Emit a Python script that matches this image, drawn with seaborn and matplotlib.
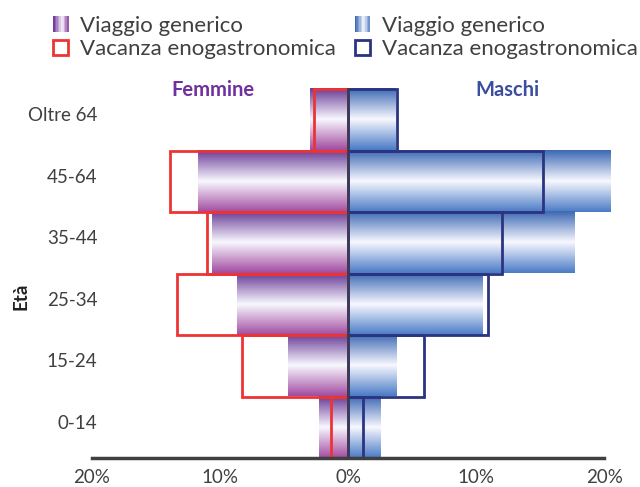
#! /bin/env python3

''' Piramide per eta: viaggio generico vs vacanza enogastronomica '''

import numpy as np
import pandas as pd
import seaborn as sns
import matplotlib.pyplot as plt
from matplotlib.colors import LinearSegmentedColormap, to_rgb
from matplotlib.legend_handler import HandlerBase
from matplotlib.patches import Rectangle
from matplotlib.ticker import FixedLocator, FuncFormatter
from matplotlib.transforms import ScaledTranslation

ages = ['Oltre 64', '45-64', '35-44', '25-34', '15-24', '0-14']
femmine_generico = [3.0, 11.7, 10.6, 8.7, 4.7, 2.3]
femmine_eno = [2.7, 13.9, 11.0, 13.4, 8.3, 1.3]
maschi_generico = [3.7, 20.5, 17.7, 10.5, 3.75, 2.5]
maschi_eno = [3.8, 15.2, 12.0, 10.9, 5.9, 1.2]
x_ticks = [-20, -10, 0, 10, 20]

PURPLE = ('#6a3b96', '#a24ca0')
BLUE = ('#3c69b4', '#4a7bc6')
RED = '#ee3333'
NAVY = '#2c3481'
DARK = '#404040'


def gradient_cmap(top, bottom):
    return LinearSegmentedColormap.from_list(
        'g', [(0, top), (0.5, '#f8f8ff'), (1, bottom)])


def fill_gradient(axis, patches, colors):
    ''' replace the flat fill of each bar with a vertical gradient '''
    cmap = gradient_cmap(*colors)
    grad = np.linspace(0, 1, 200).reshape(-1, 1)
    for patch in patches:
        x0, y0 = patch.get_x(), patch.get_y()
        x1, y1 = x0 + patch.get_width(), y0 + patch.get_height()
        img = axis.imshow(grad, cmap=cmap, aspect='auto', origin='upper',
                          extent=(min(x0, x1), max(x0, x1), y1, y0),
                          interpolation='bilinear', zorder=0.5, clip_on=False)
        img.set_clip_path(patch)
        patch.set_facecolor('none')
        patch.set_edgecolor('none')


class GradientHandler(HandlerBase):
    ''' legend swatch drawn as horizontal stripes '''
    def __init__(self, colors):
        super().__init__()
        self.colors = colors

    def create_artists(self, legend, orig_handle, xdescent, ydescent,
                       width, height, fontsize, trans):
        left, right = (np.array(to_rgb(c)) for c in self.colors)
        white = np.array([0.97, 0.97, 1.0])
        n = 10
        arts = []
        for i in range(n):
            t = i / (n - 1)
            if t < 0.6:
                col = left + (white - left) * (t / 0.6)
            else:
                col = white + (right - white) * ((t - 0.6) / 0.4)
            arts.append(Rectangle((-xdescent + width * i / n, -ydescent),
                                  width / n + 0.3, height, facecolor=col,
                                  edgecolor='none', transform=trans))
        return arts


def _main():
    sns.set_theme(style='white')
    plt.rcParams['font.family'] = ['Lato', 'DejaVu Sans']
    plt.rcParams['text.color'] = DARK

    data = pd.DataFrame({
        'age': ages,
        'f_gen': [-v for v in femmine_generico],
        'f_eno': [-v for v in femmine_eno],
        'm_gen': maschi_generico,
        'm_eno': maschi_eno,
    })

    fig = plt.figure(figsize=(6.4, 4.87), dpi=100)
    axis = fig.add_axes([92 / 640, 1 - 458 / 487, (617 - 92) / 640,
                         (458 - 89) / 487])

    sns.barplot(data, y='age', x='f_gen', order=ages, width=1, orient='h',
                color=PURPLE[0], ax=axis)
    f_patches = list(axis.patches)
    sns.barplot(data, y='age', x='m_gen', order=ages, width=1, orient='h',
                color=BLUE[0], ax=axis)
    m_patches = list(axis.patches)[len(f_patches):]
    fill_gradient(axis, f_patches, PURPLE)
    fill_gradient(axis, m_patches, BLUE)

    sns.barplot(data, y='age', x='f_eno', order=ages, width=1, orient='h',
                fill=False, color=RED, linewidth=2, ax=axis)
    sns.barplot(data, y='age', x='m_eno', order=ages, width=1, orient='h',
                fill=False, color=NAVY, linewidth=2, ax=axis)
    for patch in axis.patches:
        patch.set_clip_on(False)

    axis.set_xlim(-20, 21)
    axis.set_ylim(5.5, -0.5)
    axis.set_xlabel('')
    axis.set_ylabel('')

    for side in ['top', 'left']:
        axis.spines[side].set_visible(False)
    axis.spines['bottom'].set_bounds(-20, 20)
    axis.spines['bottom'].set_color(DARK)
    axis.spines['bottom'].set_linewidth(2.5)
    axis.spines['right'].set_position(('data', 0))
    axis.spines['right'].set_color(DARK)
    axis.spines['right'].set_linewidth(1.2)
    axis.spines['right'].set_zorder(3)

    axis.set_xticks(x_ticks)
    axis.xaxis.set_major_formatter(FuncFormatter(lambda v, _: f'{abs(v):.0f}%'))
    axis.tick_params(axis='x', length=0, pad=8, labelsize=13.5,
                     labelcolor=DARK)

    axis.set_yticks(range(len(ages)), labels=ages)
    axis.yaxis.set_minor_locator(FixedLocator(np.arange(-0.5, len(ages), 1)))
    axis.tick_params(axis='y', which='major', left=True, right=False,
                     length=0, pad=-4, labelsize=13.5, labelcolor=DARK)
    axis.tick_params(axis='y', which='minor', left=False, right=True,
                     direction='in', length=5, width=1.2, color=DARK)
    shift = ScaledTranslation(0, 0.055, fig.dpi_scale_trans)
    for label in axis.get_yticklabels():
        label.set_transform(label.get_transform() + shift)

    fig.text(213 / 640, 1 - 90 / 487, 'Femmine', color='#7030a0',
             fontsize=14.5, fontweight='bold', ha='center', va='center')
    fig.text(507 / 640, 1 - 90 / 487, 'Maschi', color='#3b4ea0',
             fontsize=14.5, fontweight='bold', ha='center', va='center')
    fig.text(21 / 640, 1 - 296 / 487, 'Età', fontsize=13.5,
             fontweight='bold', rotation=90, ha='center', va='center',
             color='#222222')

    h_fgen = Rectangle((0, 0), 1, 1)
    h_mgen = Rectangle((0, 1), 1, 1)
    h_feno = Rectangle((0, 0), 1, 1, facecolor='none', edgecolor=RED,
                       linewidth=2)
    h_meno = Rectangle((0, 0), 1, 1, facecolor='none', edgecolor=NAVY,
                       linewidth=2)
    fig.legend([h_fgen, h_feno, h_mgen, h_meno],
               ['Viaggio generico', 'Vacanza enogastronomica',
                'Viaggio generico', 'Vacanza enogastronomica'],
               handler_map={h_fgen: GradientHandler(('#7a3d9c', '#9a58a8')),
                            h_mgen: GradientHandler(('#3c69b4', '#6f94d0'))},
               ncol=2, loc='upper left',
               bbox_to_anchor=(53 / 640, 1 - 16 / 487),
               borderaxespad=0, borderpad=0, frameon=False, fontsize=16,
               handlelength=0.68, handleheight=0.72, handletextpad=0.55,
               columnspacing=0.84, labelspacing=0.15)

    fig.savefig('out.png', dpi=100)


if __name__ == "__main__":
    _main()
